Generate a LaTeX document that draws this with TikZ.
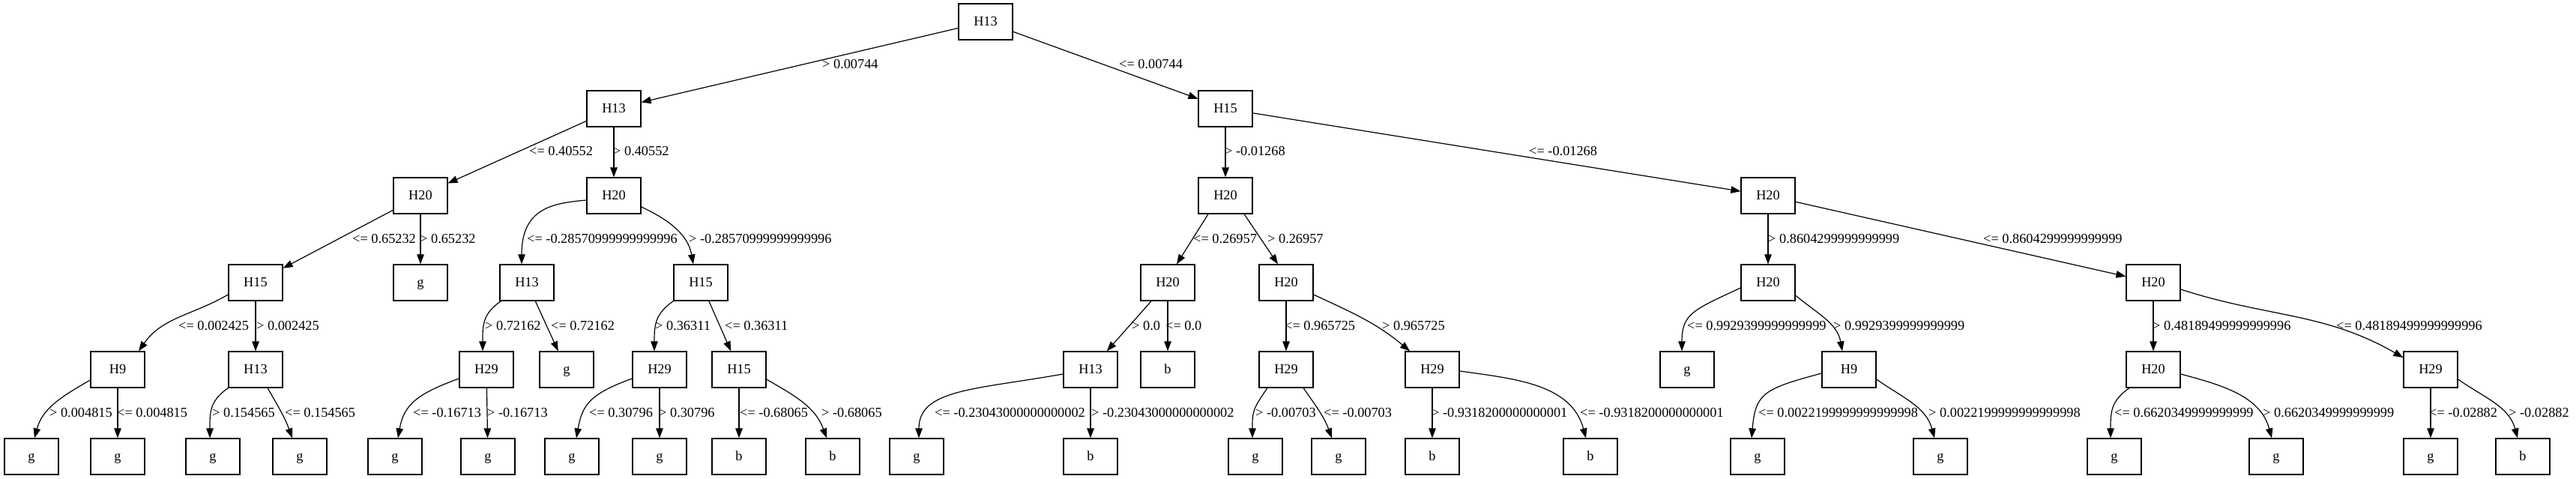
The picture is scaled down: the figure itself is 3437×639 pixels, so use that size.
\documentclass[tikz,border=0pt]{standalone}
\usepackage{fontspec}
\setmainfont{Liberation Serif}
\usetikzlibrary{arrows.meta}
\newcommand{\gvfont}{\fontsize{18.3pt}{21pt}\selectfont}
\begin{document}
\begin{tikzpicture}[x=1pt,y=1pt,
  box/.style={draw, line width=1.2pt, minimum width=72pt, minimum height=48pt, inner sep=0pt, text height=11pt, text depth=0pt, font=\gvfont},
  lab/.style={anchor=base west, inner sep=0pt, font=\gvfont},
  edge/.style={line width=1.2pt, -{Triangle[length=13pt,width=9.5pt]}},
  arcL/.style={out=215,in=90,out distance=30pt,in distance=35pt},
  arcW/.style={out=200,in=80,out distance=60pt,in distance=45pt}]
\useasboundingbox (0,0) rectangle (3437,639);
% level 0
\node[box] (n0) at (1315,610) {H13};
% level 1
\node[box] (n1) at (819,494) {H13};
\node[box] (n2) at (1635,494) {H15};
% level 2
\node[box] (n3) at (561,378) {H20};
\node[box] (n4) at (819,378) {H20};
\node[box] (n5) at (1635,378) {H20};
\node[box] (n6) at (2359,378) {H20};
% level 3
\node[box] (n7) at (341,262) {H15};
\node[box] (n8) at (561,262) {g};
\node[box] (n9) at (703,262) {H13};
\node[box] (n10) at (935,262) {H15};
\node[box] (n11) at (1558,262) {H20};
\node[box] (n12) at (1716,262) {H20};
\node[box] (n13) at (2359,262) {H20};
\node[box] (n14) at (2873,262) {H20};
% level 4
\node[box] (n15) at (157,146) {H9};
\node[box] (n16) at (341,146) {H13};
\node[box] (n17) at (649,146) {H29};
\node[box] (n18) at (756,146) {g};
\node[box] (n19) at (880,146) {H29};
\node[box] (n20) at (986,146) {H15};
\node[box] (n21) at (1455,146) {H13};
\node[box] (n22) at (1558,146) {b};
\node[box] (n23) at (1716,146) {H29};
\node[box] (n24) at (1911,146) {H29};
\node[box] (n25) at (2251,146) {g};
\node[box] (n26) at (2467,146) {H9};
\node[box] (n27) at (2873,146) {H20};
\node[box] (n28) at (3243,146) {H29};
% level 5
\node[box] (n29) at (42,30) {g};
\node[box] (n30) at (157,30) {g};
\node[box] (n31) at (284,30) {g};
\node[box] (n32) at (400,30) {g};
\node[box] (n33) at (527,30) {g};
\node[box] (n34) at (651,30) {g};
\node[box] (n35) at (763,30) {g};
\node[box] (n36) at (880,30) {g};
\node[box] (n37) at (986,30) {b};
\node[box] (n38) at (1111,30) {b};
\node[box] (n39) at (1223,30) {g};
\node[box] (n40) at (1455,30) {b};
\node[box] (n41) at (1675,30) {g};
\node[box] (n42) at (1786,30) {g};
\node[box] (n43) at (1911,30) {b};
\node[box] (n44) at (2122,30) {b};
\node[box] (n45) at (2345,30) {g};
\node[box] (n46) at (2589,30) {g};
\node[box] (n47) at (2821,30) {g};
\node[box] (n48) at (3037,30) {g};
\node[box] (n49) at (3243,30) {g};
\node[box] (n50) at (3366,30) {b};
% edges level 0-1
\draw[edge] (n0) -- (n1);
\draw[edge] (n0) -- (n2);
% level 1-2
\draw[edge] (n1) -- (n3);
\draw[edge] (n1) -- (n4);
\draw[edge] (n2) -- (n5);
\draw[edge] (n2) -- (n6);
% level 2-3
\draw[edge] (n3) -- (n7);
\draw[edge] (n3) -- (n8);
\draw[edge] ([yshift=-6pt]n4.west) to[out=185,in=90,out distance=45pt,in distance=75pt] ([xshift=-7pt]n9.north);
\draw[edge] ([yshift=-15pt]n4.east) to[out=-25,in=100] ([xshift=-10pt]n10.north);
\draw[edge] ([xshift=-23pt]n5.south) -- ([xshift=12pt]n11.north);
\draw[edge] ([xshift=25pt]n5.south) -- ([xshift=-11pt]n12.north);
\draw[edge] (n6) -- (n13);
\draw[edge] (n6) -- (n14);
% level 3-4
\draw[edge] ([yshift=-16pt]n7.west) to[out=210,in=55] ([xshift=28pt]n15.north);
\draw[edge] (n7) -- (n16);
\draw[edge] ([xshift=2pt]n9.south west) to[arcL] ([xshift=-5pt]n17.north);
\draw[edge] (n9) -- (n18);
\draw[edge] (n10.south west) to[arcL] ([xshift=-7pt]n19.north);
\draw[edge] (n10) -- (n20);
\draw[edge] (n11) -- (n21);
\draw[edge] (n11) -- (n22);
\draw[edge] (n12) -- (n23);
\draw[edge] ([yshift=-16pt]n12.east) to[out=-25,in=140] ([xshift=-30pt]n24.north);
\draw[edge] ([yshift=-7pt]n13.west) to[out=205,in=90,out distance=70pt,in distance=50pt] ([xshift=-7pt]n25.north);
\draw[edge] ([yshift=-17pt]n13.east) to[out=-40,in=100] ([xshift=-9pt]n26.north);
\draw[edge] (n14) -- (n27);
\draw[edge] ([yshift=-9pt]n14.east) to[out=-18,in=150] ([yshift=16pt]n28.west);
% level 4-5
\draw[edge] ([yshift=-14pt]n15.west) to[out=210,in=75] ([xshift=4pt]n29.north);
\draw[edge] (n15) -- (n30);
\draw[edge] (n16.south west) to[arcL] ([xshift=-4pt]n31.north);
\draw[edge] ([xshift=16pt]n16.south) to[out=-60,in=110] ([xshift=-10pt]n32.north);
\draw[edge] ([yshift=-12pt]n17.west) to[arcW] ([xshift=4pt]n33.north);
\draw[edge] (n17) -- (n34);
\draw[edge] ([yshift=-12pt]n19.west) to[arcW] ([xshift=6pt]n35.north);
\draw[edge] (n19) -- (n36);
\draw[edge] (n20) -- (n37);
\draw[edge] ([yshift=-13pt]n20.east) to[out=-30,in=110] ([xshift=-8pt]n38.north);
\draw[edge] ([yshift=-6pt]n21.west) to[out=190,in=90,out distance=120pt,in distance=65pt] ([xshift=3pt]n39.north);
\draw[edge] (n21) -- (n40);
\draw[edge] ([xshift=-25pt]n23.south) to[out=235,in=90,out distance=35pt,in distance=35pt] ([xshift=-4pt]n41.north);
\draw[edge] ([xshift=23pt]n23.south) to[out=-55,in=110] ([xshift=-9pt]n42.north);
\draw[edge] (n24) -- (n43);
\draw[edge] ([yshift=-2pt]n24.east) to[out=-8,in=105] ([xshift=-6pt]n44.north);
\draw[edge] ([yshift=-5pt]n26.west) to[out=195,in=85,out distance=80pt,in distance=60pt] ([xshift=-8pt]n45.north);
\draw[edge] ([yshift=-13pt]n26.east) to[out=-35,in=105] ([xshift=-8pt]n46.north);
\draw[edge] ([xshift=-32pt]n27.south) to[arcL] ([xshift=-5pt]n47.north);
\draw[edge] ([yshift=-6pt]n27.east) to[out=-15,in=105] ([xshift=-6pt]n48.north);
\draw[edge] (n28) -- (n49);
\draw[edge] ([yshift=-13pt]n28.east) to[out=-35,in=105] ([xshift=-7pt]n50.north);
% labels level 0-1
\node[lab] (l1) at (1097,547) {> 0.00744};
\node[lab] (l2) at (1493,547) {<= 0.00744};
% labels level 1-2
\node[lab] (l3) at (706,431) {<= 0.40552};
\node[lab] (l4) at (818,431) {> 0.40552};
\node[lab] (l5) at (1634,431) {> -0.01268};
\node[lab] (l6) at (2040,431) {<= -0.01268};
% labels level 2-3
\node[lab] (l7) at (470,314) {<= 0.65232};
\node[lab] (l8) at (560,314) {> 0.65232};
\node[lab] (l9) at (703,314) {<= -0.28570999999999996};
\node[lab] (l10) at (919,314) {> -0.28570999999999996};
\node[lab] (l11) at (1592,314) {<= 0.26957};
\node[lab] (l12) at (1691,314) {> 0.26957};
\node[lab] (l13) at (2359,314) {> 0.8604299999999999};
\node[lab] (l14) at (2646,314) {<= 0.8604299999999999};
% labels level 3-4
\node[lab] (l15) at (238,198) {<= 0.002425};
\node[lab] (l16) at (342,198) {> 0.002425};
\node[lab] (l17) at (647,198) {> 0.72162};
\node[lab] (l18) at (735,198) {<= 0.72162};
\node[lab] (l19) at (874,198) {> 0.36311};
\node[lab] (l20) at (967,198) {<= 0.36311};
\node[lab] (l21) at (1510,198) {> 0.0};
\node[lab] (l22) at (1555,198) {<= 0.0};
\node[lab] (l23) at (1714,198) {<= 0.965725};
\node[lab] (l24) at (1844,198) {> 0.965725};
\node[lab] (l25) at (2251,198) {<= 0.9929399999999999};
\node[lab] (l26) at (2446,198) {> 0.9929399999999999};
\node[lab] (l27) at (2872,198) {> 0.48189499999999996};
\node[lab] (l28) at (3117,198) {<= 0.48189499999999996};
% labels level 4-5
\node[lab] (l29) at (66,82) {> 0.004815};
\node[lab] (l30) at (156,82) {<= 0.004815};
\node[lab] (l31) at (283,82) {> 0.154565};
\node[lab] (l32) at (380,82) {<= 0.154565};
\node[lab] (l33) at (551,82) {<= -0.16713};
\node[lab] (l34) at (650,82) {> -0.16713};
\node[lab] (l35) at (786,82) {<= 0.30796};
\node[lab] (l36) at (879,82) {> 0.30796};
\node[lab] (l37) at (987,82) {<= -0.68065};
\node[lab] (l38) at (1096,82) {> -0.68065};
\node[lab] (l39) at (1247,82) {<= -0.23043000000000002};
\node[lab] (l40) at (1456,82) {> -0.23043000000000002};
\node[lab] (l41) at (1675,82) {> -0.00703};
\node[lab] (l42) at (1766,82) {<= -0.00703};
\node[lab] (l43) at (1910,82) {> -0.9318200000000001};
\node[lab] (l44) at (2108,82) {<= -0.9318200000000001};
\node[lab] (l45) at (2346,82) {<= 0.0022199999999999998};
\node[lab] (l46) at (2573,82) {> 0.0022199999999999998};
\node[lab] (l47) at (2821,82) {<= 0.6620349999999999};
\node[lab] (l48) at (3019,82) {> 0.6620349999999999};
\node[lab] (l49) at (3241,82) {<= -0.02882};
\node[lab] (l50) at (3347,82) {> -0.02882};
\end{tikzpicture}
\end{document}
